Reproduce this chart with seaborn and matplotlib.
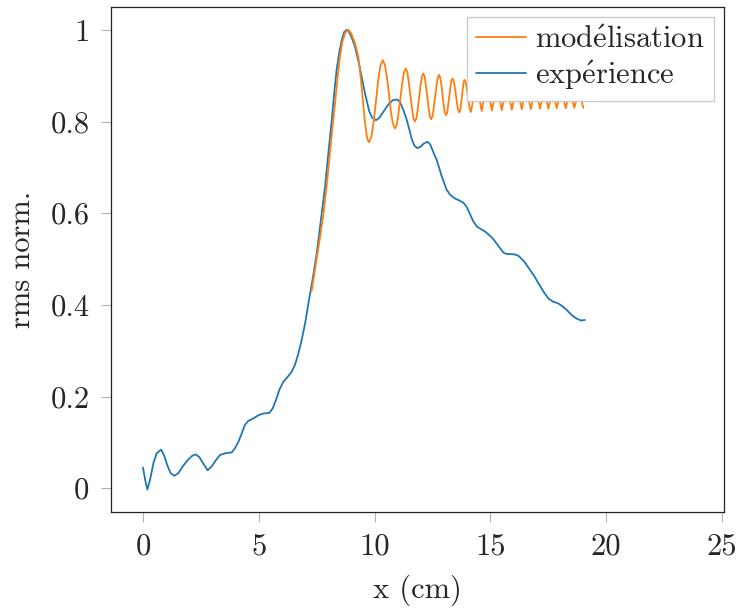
import numpy as np
import pandas as pd
import matplotlib
matplotlib.use('Agg')
import matplotlib.pyplot as plt
from matplotlib.ticker import FuncFormatter
import seaborn as sns

sns.set_style('ticks')
plt.rcParams['font.family'] = ['cmr10', 'DejaVu Serif']
plt.rcParams['mathtext.fontset'] = 'cm'
plt.rcParams['axes.formatter.use_mathtext'] = True

# expérience (blue)
exp_x = [0.00, 0.10, 0.19, 0.30, 0.45, 0.59, 0.78, 0.91, 1.05, 1.19, 1.35, 1.53,
         1.74, 1.96, 2.14, 2.27, 2.43, 2.60, 2.79, 2.96, 3.15, 3.32, 3.54, 3.83,
         3.97, 4.12, 4.26, 4.40, 4.55, 4.76, 4.98, 5.20, 5.45, 5.60, 5.74, 5.89,
         6.06, 6.28, 6.42, 6.56, 6.71, 6.85, 7.00, 7.14, 7.32, 7.50, 7.68, 7.86,
         8.00, 8.15, 8.26, 8.36, 8.47, 8.58, 8.68, 8.79, 8.90, 9.02, 9.15, 9.30,
         9.44, 9.60, 9.77, 9.90, 10.06, 10.20, 10.40, 10.60, 10.80, 10.98, 11.10,
         11.25, 11.39, 11.50, 11.60, 11.72, 11.84, 11.98, 12.12, 12.28, 12.40,
         12.52, 12.68, 12.90, 13.11, 13.28, 13.47, 13.65, 13.83, 13.97, 14.10,
         14.25, 14.41, 14.60, 14.77, 14.95, 15.13, 15.35, 15.56, 15.70, 15.85,
         16.05, 16.21, 16.45, 16.71, 16.90, 17.07, 17.30, 17.50, 17.70, 17.93,
         18.10, 18.29, 18.50, 18.72, 18.90, 19.08]
exp_y = [0.045, 0.017, -0.003, 0.017, 0.054, 0.076, 0.084, 0.072, 0.050, 0.033, 0.027, 0.033,
         0.049, 0.063, 0.071, 0.0735, 0.068, 0.054, 0.039, 0.047, 0.061, 0.072, 0.076, 0.078,
         0.087, 0.101, 0.119, 0.138, 0.147, 0.152, 0.159, 0.163, 0.164, 0.174, 0.192, 0.215,
         0.232, 0.245, 0.254, 0.269, 0.294, 0.323, 0.360, 0.403, 0.455, 0.512, 0.585, 0.658,
         0.730, 0.803, 0.865, 0.913, 0.950, 0.978, 0.995, 1.000, 0.995, 0.982, 0.964, 0.932,
         0.898, 0.858, 0.822, 0.808, 0.803, 0.808, 0.823, 0.838, 0.847, 0.848, 0.842,
         0.824, 0.803, 0.782, 0.762, 0.747, 0.742, 0.745, 0.752, 0.756, 0.750,
         0.735, 0.716, 0.680, 0.651, 0.639, 0.632, 0.628, 0.623, 0.614, 0.600,
         0.583, 0.571, 0.565, 0.560, 0.552, 0.543, 0.528, 0.514, 0.511, 0.511,
         0.510, 0.507, 0.495, 0.476, 0.462, 0.447, 0.428, 0.414, 0.407, 0.403,
         0.397, 0.389, 0.378, 0.370, 0.366, 0.367]

# modélisation (orange)
mod_x = [7.28, 7.45, 7.62, 7.79, 7.95, 8.07, 8.18, 8.29, 8.40, 8.51, 8.62, 8.74, 8.87,
         8.98, 9.10, 9.20, 9.30, 9.37, 9.44, 9.52, 9.59, 9.65, 9.71, 9.76,
         9.86, 9.96, 10.06, 10.15, 10.25, 10.35,
         10.44, 10.53, 10.62, 10.70, 10.79, 10.88,
         10.96, 11.03, 11.11, 11.19, 11.26, 11.34,
         11.41, 11.47, 11.54, 11.61, 11.67, 11.74,
         11.80, 11.86, 11.92, 11.98, 12.04, 12.10,
         12.16, 12.21, 12.27, 12.33, 12.38, 12.44,
         12.50, 12.55, 12.61, 12.67, 12.72, 12.78,
         12.83, 12.88, 12.93, 12.98, 13.03, 13.08,
         13.13, 13.17, 13.22, 13.27, 13.31, 13.36,
         13.41, 13.46, 13.51, 13.56, 13.61, 13.66,
         13.70, 13.73, 13.77, 13.81, 13.84, 13.88,
         13.93, 13.97, 14.02, 14.07, 14.11, 14.16,
         14.39, 14.62, 14.84, 15.06, 15.28, 15.49, 15.71, 15.92, 16.14, 16.35, 16.55,
         16.74, 16.94, 17.14, 17.32, 17.50, 17.68, 17.86, 18.05, 18.25, 18.43, 18.62, 18.81,
         19.01]
mod_y = [0.430, 0.485, 0.540, 0.598, 0.670, 0.731, 0.787, 0.840, 0.897, 0.945, 0.977, 0.995, 1.000,
         0.993, 0.978, 0.962, 0.940, 0.910, 0.876, 0.830, 0.795, 0.772, 0.759, 0.755,
         0.767, 0.800, 0.845, 0.889, 0.922, 0.934,
         0.924, 0.897, 0.860, 0.822, 0.795, 0.785,
         0.794, 0.818, 0.851, 0.883, 0.907, 0.916,
         0.908, 0.887, 0.858, 0.829, 0.808, 0.800,
         0.807, 0.826, 0.853, 0.879, 0.898, 0.905,
         0.898, 0.880, 0.855, 0.830, 0.812, 0.805,
         0.812, 0.830, 0.854, 0.878, 0.895, 0.902,
         0.896, 0.880, 0.858, 0.836, 0.820, 0.814,
         0.819, 0.834, 0.854, 0.874, 0.889, 0.894,
         0.889, 0.876, 0.857, 0.838, 0.825, 0.820,
         0.825, 0.838, 0.856, 0.873, 0.886, 0.891,
         0.886, 0.874, 0.857, 0.839, 0.827, 0.821,
         0.888, 0.823, 0.885, 0.824, 0.882, 0.825, 0.880, 0.826, 0.878, 0.827, 0.876,
         0.827, 0.874, 0.828, 0.872, 0.828, 0.870, 0.829, 0.869, 0.829, 0.868, 0.830, 0.867,
         0.830]

exp_df = pd.DataFrame({'x': exp_x, 'y': exp_y})
mod_df = pd.DataFrame({'x': mod_x, 'y': mod_y})

fig = plt.figure(figsize=(7.36, 6.10), dpi=100)
ax = fig.add_axes([0.1508, 0.1607, 0.8329, 0.8278])

sns.lineplot(data=exp_df, x='x', y='y', ax=ax, color='#1f77b4', lw=1.3,
             estimator=None, sort=False, label=r"$\mathrm{exp\acute{e}rience}$")
sns.lineplot(data=mod_df, x='x', y='y', ax=ax, color='#ff7f0e', lw=1.3,
             estimator=None, sort=False, label=r"$\mathrm{mod\acute{e}lisation}$")

ax.set_xlim(-1.38, 25.08)
ax.set_ylim(-0.052, 1.05)
ax.set_xticks([0, 5, 10, 15, 20, 25])
ax.set_yticks([0, 0.2, 0.4, 0.6, 0.8, 1.0])
fmt = FuncFormatter(lambda v, p: '%g' % round(v, 2))
ax.xaxis.set_major_formatter(fmt)
ax.yaxis.set_major_formatter(fmt)

ax.set_xlabel('x (cm)', fontsize=22, labelpad=10)
ax.set_ylabel('rms norm.', fontsize=22, labelpad=10)
ax.tick_params(axis='both', labelsize=22, length=7.5, width=0.8,
               color='#b0b0b0', direction='out', pad=8)
for s in ax.spines.values():
    s.set_color('#222222')
    s.set_linewidth(0.9)

# modélisation first in the legend
h, l = ax.get_legend_handles_labels()
ax.legend(h[::-1], l[::-1], loc='upper right', fontsize=22, frameon=True,
          fancybox=False, framealpha=1, edgecolor='#cccccc',
          borderaxespad=0.33, handlelength=1.65, handletextpad=0.3,
          labelspacing=0.14, borderpad=0.3)

fig.savefig('out.png', dpi=100)
